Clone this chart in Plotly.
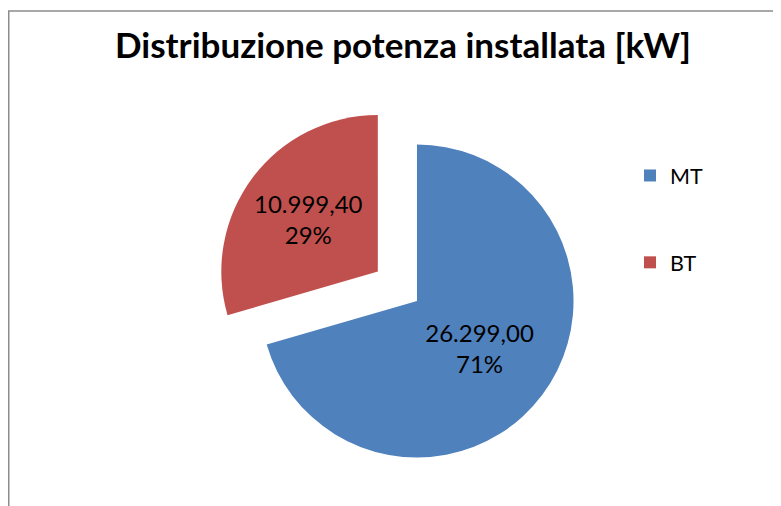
import plotly.graph_objects as go

labels = ["MT", "BT"]
values = [26299.00, 10999.40]
pulls = [0, 0.313]
colors = ["#4F81BD", "#C0504D"]

W, H = 781, 506
OFF = 8  # page body margin: figure starts 8 px right / down


def px_x(p):
    return (p - OFF) / W


def px_y(p):
    return 1 - (p - OFF) / H


# pie centre (417, 301) on the page, box side ~410 px
cx, cy, box = 417, 301, 411
dom_x = [px_x(cx - box / 2), px_x(cx + box / 2)]
dom_y = [0, 2 * (1 - (cy - OFF) / H)]

fig = go.Figure()
fig.add_trace(go.Pie(
    labels=[l + "<br> <br> " for l in labels],
    values=values,
    pull=pulls,
    sort=False,
    direction="clockwise",
    rotation=0,
    marker=dict(colors=colors, line=dict(width=0)),
    texttemplate="%{value:,.2f}<br>%{percent:.0%}",
    textposition="inside",
    insidetextorientation="horizontal",
    insidetextfont=dict(family="Lato", size=24, color="black"),
    domain=dict(x=dom_x, y=dom_y),
    hoverinfo="skip",
))

fig.add_shape(
    type="rect", xref="paper", yref="paper",
    x0=0.75 / W, x1=1.02, y0=-0.02, y1=px_y(11),
    line=dict(color="#8c8c8c", width=1.5),
)

fig.update_layout(
    width=W, height=H,
    margin=dict(l=0, r=0, t=0, b=0),
    separators=",.",
    paper_bgcolor="white",
    plot_bgcolor="white",
    title=dict(
        text="<b>Distribuzione potenza installata [kW]</b>",
        x=px_x(403), xanchor="center",
        y=px_y(46), yanchor="middle",
        font=dict(family="Lato", size=35, color="black"),
    ),
    legend=dict(
        x=px_x(630), xanchor="left",
        y=px_y(155), yanchor="top",
        valign="top",
        font=dict(family="Lato", size=21.5, color="black"),
        itemclick=False,
    ),
)

fig.write_html("out.html")
